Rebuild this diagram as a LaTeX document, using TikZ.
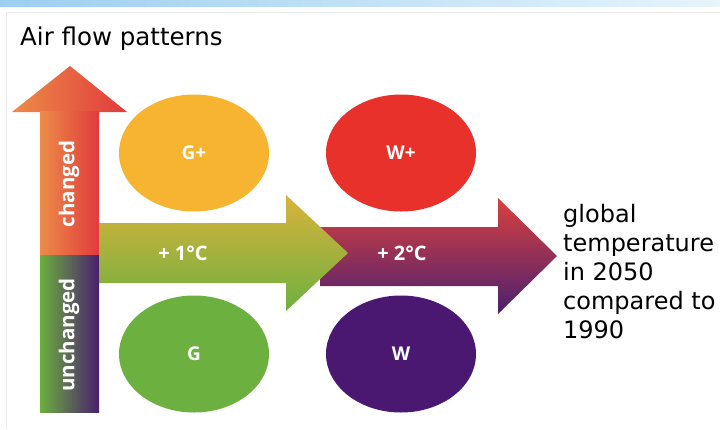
\documentclass[tikz,border=0pt]{standalone}
\usepackage{fontspec}
\setmainfont{DejaVu Sans}
\newfontfamily\lblfont{Open Sans}
\usetikzlibrary{shapes.geometric}
\definecolor{corange}{HTML}{EC8C48}
\definecolor{cred}{HTML}{E13A3C}
\definecolor{cgreen}{HTML}{6CAE3F}
\definecolor{cpurple}{HTML}{4A1F6E}
\definecolor{cyel}{HTML}{D9B33B}
\definecolor{cgreenb}{HTML}{6EB040}
\definecolor{cred2}{HTML}{D9403F}
\definecolor{cmid2}{HTML}{B04A5C}
\definecolor{cpurp2}{HTML}{4A2070}
\definecolor{ellG}{HTML}{F6B431}
\definecolor{ellGg}{HTML}{6CB03F}
\definecolor{ellW}{HTML}{E8312A}
\definecolor{ellWw}{HTML}{4A1870}
\definecolor{stripL}{HTML}{9CCFEF}
\definecolor{stripR}{HTML}{E6F4FC}
\tikzset{
  blob/.style={ellipse, inner sep=0pt, minimum width=150pt, minimum height=117pt,
    text=white, font=\lblfont\bfseries\fontsize{19}{21}\selectfont},
  arrlabel/.style={text=white, inner sep=0pt, font=\lblfont\bfseries\fontsize{20}{22}\selectfont},
  sidelabel/.style={text=white, inner sep=0pt, rotate=90, font=\lblfont\bfseries\fontsize{20.5}{22}\selectfont},
}
\begin{document}
\begin{tikzpicture}[x=1pt,y=-1pt]
\useasboundingbox (0,0) rectangle (720,429);
\fill[white] (0,0) rectangle (720,429);
% top strip
\shade[left color=stripL, right color=stripR] (0,0) rectangle (720,6);
\draw[black!8, line width=0.8pt] (6,429) -- (6,12) -- (720,12);

% title
\node[anchor=base west, inner sep=0pt, font=\fontsize{24.5}{28}\selectfont] (title) at (20,45) {Air flow patterns};

% vertical arrow
\shade[left color=corange, right color=cred] (12,112) -- (70,66) -- (127,112) -- cycle;
\shade[left color=corange, right color=cred] (40,111) rectangle (99,255);
\shade[left color=cgreen, right color=cpurple] (40,255) rectangle (99,412);
\node[sidelabel] (chg) at (69,184) {changed};
\node[sidelabel] (unchg) at (69,335) {unchanged};

% horizontal arrow 2
\shade[top color=cred2, middle color=cmid2, bottom color=cpurp2]
  (320,227) -- (498,227) -- (498,198) -- (557,256) -- (498,314) -- (498,286) -- (320,286) -- cycle;
% horizontal arrow 1
\shade[top color=cyel, bottom color=cgreenb]
  (99,223) -- (286,223) -- (286,195) -- (348,253) -- (286,311) -- (286,283) -- (99,283) -- cycle;
\node[arrlabel] (one) at (183,253) {+ 1°C};
\node[arrlabel] (two) at (402,253) {+ 2°C};

% ellipses
\node[blob, fill=ellG] (gp) at (194,153) {G+};
\node[blob, fill=ellW] (wp) at (401,153) {W+};
\node[blob, fill=ellGg] (g) at (194,354) {G};
\node[blob, fill=ellWw] (w) at (401,354) {W};

% right text
\node[anchor=north west, inner sep=0pt, align=left, font=\fontsize{24}{29}\selectfont] (glob) at (563,204)
  {global\\temperature\\in 2050\\compared to\\1990};
\end{tikzpicture}
\end{document}
